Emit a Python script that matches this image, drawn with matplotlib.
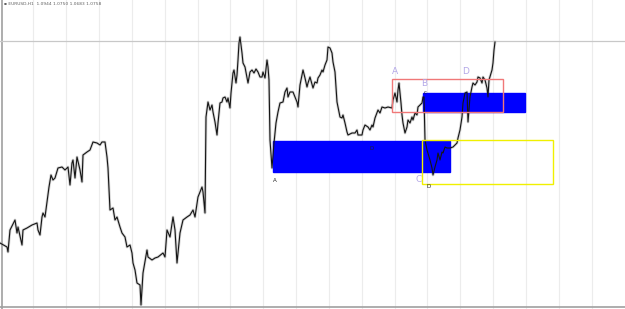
import matplotlib
matplotlib.use("Agg")
import matplotlib.pyplot as plt
from matplotlib.patches import Rectangle

# EURUSD H1 closes (x = bar position, value = level)
bar_x = [0, 7, 8, 10, 15, 17, 18, 22, 23, 27, 32, 37, 38, 40, 42, 43, 45, 47, 49, 51,
         53, 55, 58, 62, 65, 68, 70, 72, 73, 75, 77, 80, 82, 83, 87, 90, 93, 97, 100, 102,
         105, 107, 108, 110, 113, 115, 117, 120, 122, 125, 127, 130, 132, 133, 135, 137, 140, 141, 143, 147,
         148, 152, 155, 158, 163, 165, 167, 170, 173, 175, 177, 180, 183, 187, 190, 193, 195, 198, 202, 203,
         205, 206, 208, 210, 212, 213, 215, 217, 218, 220, 222, 223, 225, 227, 228, 230, 231, 233, 234, 236,
         237, 238, 239, 240, 242, 243, 245, 247, 248, 250, 252, 254, 256, 258, 260, 262, 263, 265, 267, 268,
         269, 270, 272, 274, 276, 278, 280, 283, 285, 287, 288, 290, 293, 295, 297, 298, 300, 303, 305, 307,
         308, 310, 313, 315, 317, 318, 320, 322, 323, 325, 327, 328, 330, 332, 333, 335, 337, 338, 340, 342,
         343, 345, 347, 348, 352, 355, 357, 358, 362, 363, 365, 368, 370, 372, 373, 375, 378, 380, 382, 385,
         388, 392, 393, 395, 397, 398, 399, 401, 402, 403, 405, 407, 408, 410, 412, 413, 415, 417, 418, 422,
         423, 424, 425, 427, 430, 432, 433, 435, 437, 438, 440, 442, 443, 445, 447, 450, 453, 457, 458, 460,
         462, 463, 465, 467, 468, 470, 472, 473, 475, 477, 478, 480, 482, 483, 485, 487, 488, 489, 492, 493,
         494, 495]
close = [66, 62, 57, 79, 89, 76, 82, 64, 79, 81, 84, 86, 79, 74, 92, 96, 92, 107, 122, 134,
         129, 131, 141, 142, 139, 142, 124, 146, 149, 131, 152, 139, 127, 154, 157, 159, 167, 166, 164, 167,
         167, 152, 141, 99, 101, 89, 92, 82, 76, 72, 62, 64, 56, 46, 39, 26, 24, 4, 36, 59,
         52, 49, 51, 52, 56, 52, 79, 72, 92, 79, 46, 76, 89, 92, 94, 99, 92, 112, 122, 117,
         96, 192, 207, 199, 204, 197, 187, 174, 186, 206, 207, 211, 212, 207, 211, 201, 216, 236, 239, 226,
         234, 249, 266, 272, 256, 246, 242, 231, 226, 237, 239, 236, 240, 237, 232, 232, 237, 231, 249, 242,
         229, 169, 141, 166, 186, 197, 206, 207, 217, 221, 212, 217, 217, 212, 207, 202, 224, 239, 231, 222,
         226, 232, 221, 227, 226, 231, 234, 239, 237, 244, 249, 262, 261, 256, 247, 237, 207, 202, 192, 191,
         194, 186, 177, 174, 176, 176, 179, 174, 174, 179, 184, 182, 179, 184, 182, 191, 199, 196, 202, 201,
         202, 201, 209, 216, 207, 219, 226, 206, 194, 186, 176, 182, 189, 186, 192, 189, 196, 194, 202, 206,
         212, 212, 169, 159, 149, 141, 134, 142, 149, 156, 149, 157, 156, 162, 161, 161, 162, 166, 171, 179,
         192, 206, 216, 217, 187, 212, 222, 226, 224, 227, 232, 231, 226, 232, 229, 221, 212, 229, 239, 246,
         259, 267]

# drawn objects: (x0, x1, low, high)
blue_zones = [(273, 450, 137, 168), (423, 525, 197, 216)]
red_box = (392, 503, 197, 230)
yellow_box = (422, 553, 125, 169)
hline_level = 268

big_labels = [("A", 395, 237), ("B", 424, 225), ("C", 419, 129), ("D", 466, 237)]
small_labels = [("A", 275, 129), ("D", 372, 160), ("c", 425, 216), ("D", 429, 122)]

fig = plt.figure(figsize=(6.25, 3.09), dpi=100)
ax = fig.add_axes([0, 0, 1, 1])
ax.set_xlim(0, 625)
ax.set_ylim(0, 309)
ax.axis("off")

# vertical grid
for gx in range(33, 625, 33):
    ax.axvline(gx - gx // 200, color="#ececec", lw=0.8, zorder=0)

ax.axvline(2, color="#a0a0a0", lw=1.2)
ax.axhline(2, color="#a0a0a0", lw=1.2)
ax.axhline(hline_level, color="#c8c8c8", lw=0.9)

for x0, x1, lo, hi in blue_zones:
    ax.add_patch(Rectangle((x0, lo), x1 - x0, hi - lo, color="#0000ff", zorder=2))

x0, x1, lo, hi = red_box
ax.add_patch(Rectangle((x0, lo), x1 - x0, hi - lo, fill=False, ec="#f07878", lw=1, zorder=4))
x0, x1, lo, hi = yellow_box
ax.add_patch(Rectangle((x0, lo), x1 - x0, hi - lo, fill=False, ec="#f0f000", lw=1, zorder=4))

# grey halo stands in for the bar wicks, kept under the zones
ax.plot(bar_x, close, color="#d4d4d4", lw=2.0, zorder=1.5)
ax.plot(bar_x, close, color="#151515", lw=0.8, zorder=3)

for t, x, y in big_labels:
    ax.text(x, y, t, color="#b4a8e8", fontsize=6.5, ha="center", va="center", zorder=5)
for t, x, y in small_labels:
    ax.text(x, y, t, color="#202020", fontsize=4, ha="center", va="center", zorder=5)

ax.text(4, 305, "\u25aa EURUSD,H1  1.0944 1.0750 1.0683 1.0758", color="#606060",
        fontsize=3.2, ha="left", va="center")

fig.savefig("out.png", dpi=100)
